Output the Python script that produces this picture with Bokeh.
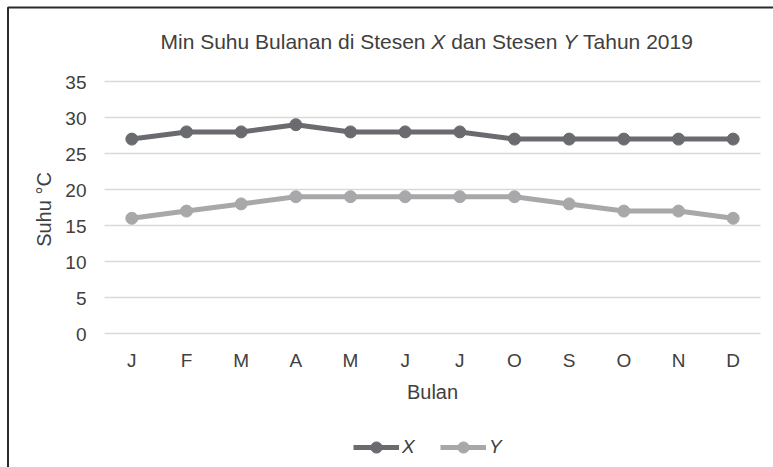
import math
from bokeh.plotting import figure
from bokeh.models import Range1d, Legend, LegendItem
from bokeh.core.properties import value
from bokeh.embed import file_html
from bokeh.resources import INLINE

# ---- data ----
months = ["Jan", "Feb", "Mar", "Apr", "May", "Jun",
          "Jul", "Aug", "Sep", "Oct", "Nov", "Dec"]
month_labels = ["J", "F", "M", "A", "M", "J", "J", "O", "S", "O", "N", "D"]
station_x = [27, 28, 28, 29, 28, 28, 28, 27, 27, 27, 27, 27]
station_y = [16, 17, 18, 19, 19, 19, 19, 19, 18, 17, 17, 16]
y_ticks = [0, 5, 10, 15, 20, 25, 30, 35]
y_tick_labels = [str(t) for t in y_ticks]

title_parts = [("Min Suhu Bulanan di Stesen ", "normal"), ("X", "italic"),
               (" dan Stesen ", "normal"), ("Y", "italic"),
               (" Tahun 2019", "normal")]
x_title = "Bulan"
y_title = "Suhu °C"

# ---- layout (pixels) ----
W, H = 773, 467
FL, FR, FT, FB = 104, 760, 81, 333          # plot area in the canvas
n = len(months)
YMAX = y_ticks[-1]
xs = (FR - FL) / n                           # px per category
ys = (FB - FT) / YMAX                        # px per degree
X0 = -0.5 - FL / xs
X1 = n - 0.5 + (W - FR) / xs
Y0 = -(H - FB) / ys
Y1 = YMAX + FT / ys
TSHIFT = -6                                  # text baseline correction


def px2x(px):
    return X0 + px / xs


def py2y(py):
    return Y1 - py / ys


FONT = "Liberation Sans"
TXT = "#404040"
C_X = "#6a6b6f"
C_Y = "#a8a8aa"
GRID = "#d9d9d9"

x_idx = list(range(n))

p = figure(width=W, height=H, output_backend="svg", toolbar_location=None,
           x_axis_type=None, y_axis_type=None,
           x_range=Range1d(X0, X1), y_range=Range1d(Y0, Y1),
           min_border=0, min_border_left=0, min_border_right=0,
           min_border_top=0, min_border_bottom=0)
p.title.visible = False
p.outline_line_color = None
p.xgrid.visible = False
p.ygrid.visible = False
p.background_fill_color = "white"
p.border_fill_color = "white"

# chart border (runs off the right and bottom edges as in the reference)
p.line(x=[px2x(7.5), px2x(7.5), px2x(W + 10)],
       y=[py2y(H + 10), py2y(7), py2y(7)],
       line_color="#2b2b2b", line_width=2)

# horizontal grid lines across the plot area
p.segment(x0=-0.5, x1=n - 0.5, y0=y_ticks, y1=y_ticks,
          line_color=GRID, line_width=1.5)

# y tick labels
p.text(x=-0.5, y=y_ticks, text=y_tick_labels, x_offset=-18, y_offset=7 + TSHIFT,
       text_align="right", text_baseline="alphabetic",
       text_font=value(FONT), text_font_size=value("19px"), text_color=TXT)
# x tick labels
p.text(x=x_idx, y=0, text=month_labels, y_offset=33 + TSHIFT,
       text_align="center", text_baseline="alphabetic",
       text_font=value(FONT), text_font_size=value("19px"), text_color=TXT)
# axis titles
p.text(x=(n - 1) / 2, y=0, text=[x_title], y_offset=64 + TSHIFT,
       text_align="center", text_baseline="alphabetic",
       text_font=value(FONT), text_font_size=value("20px"), text_color=TXT)
p.text(x=-0.5, y=YMAX / 2, text=[y_title], x_offset=-61, y_offset=2,
       angle=math.pi / 2, text_align="center", text_baseline="middle",
       text_font=value(FONT), text_font_size=value("20px"), text_color=TXT)

# series
lx = p.line(x_idx, station_x, line_color=C_X, line_width=5)
sx = p.scatter(x_idx, station_x, size=12, fill_color=C_X, line_color=C_X)
ly = p.line(x_idx, station_y, line_color=C_Y, line_width=5)
sy = p.scatter(x_idx, station_y, size=12, fill_color=C_Y, line_color=C_Y)

legend = Legend(items=[LegendItem(label="X", renderers=[lx, sx]),
                       LegendItem(label="Y", renderers=[ly, sy])],
                location=(353, H - 461), orientation="horizontal",
                glyph_width=46, glyph_height=28, label_height=28,
                label_standoff=3, spacing=18, padding=0, margin=0,
                border_line_color=None, background_fill_alpha=0,
                label_text_font=FONT, label_text_font_size="19px",
                label_text_font_style="italic", label_text_color=TXT)
p.add_layout(legend, "center")

# title made of pieces (italic station letters)
widths = {" ": 278, "M": 833, "i": 222, "n": 556, "S": 667, "u": 556, "h": 556,
          "B": 667, "l": 222, "a": 556, "d": 556, "t": 278, "e": 556, "s": 500,
          "X": 667, "Y": 667, "T": 611}
fs = 21


def text_w(s):
    return sum(widths.get(c, 556) for c in s) * fs / 1000.0


xpos = 160 - FL
for txt, style in title_parts:
    core = txt.strip()
    lead = txt[:len(txt) - len(txt.lstrip())]
    p.text(x=-0.5, y=YMAX, text=[core], x_offset=xpos + text_w(lead),
           y_offset=47 - FT + TSHIFT, text_align="left",
           text_baseline="alphabetic",
           text_font=value(FONT), text_font_size=value(f"{fs}px"),
           text_font_style=style, text_color=TXT)
    xpos += text_w(txt)

open("out.html", "w").write(file_html(p, INLINE))
